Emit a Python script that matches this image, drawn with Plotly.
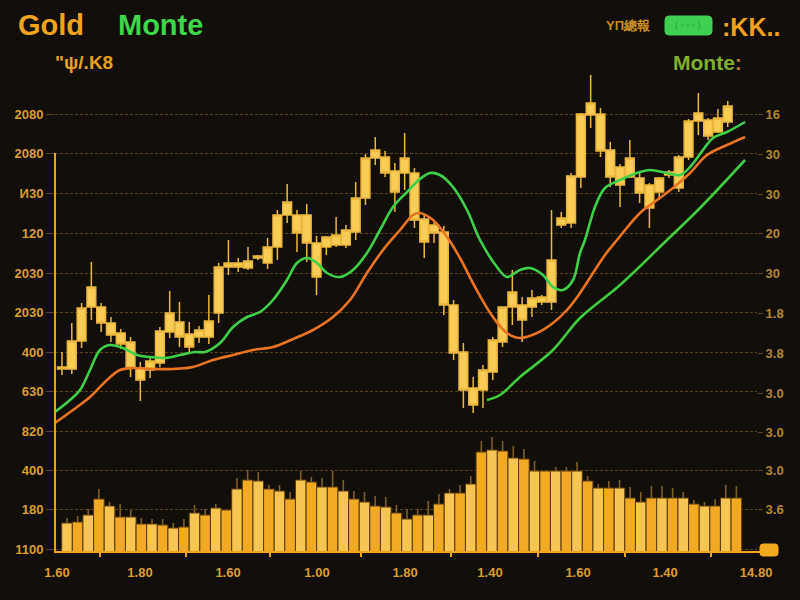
import plotly.graph_objects as go

# ---------------- data ----------------
days = list(range(69))
open_ = [1231, 1231, 1259, 1293, 1293, 1277, 1267, 1258, 1232, 1230,
         1237, 1268, 1278, 1266, 1263, 1263, 1287, 1333, 1337, 1332,
         1342, 1337, 1353, 1385, 1385, 1385, 1357, 1353, 1355, 1355,
         1368, 1402, 1442, 1443, 1429, 1427, 1427, 1381, 1375, 1368,
         1295, 1248, 1212, 1210, 1228, 1258, 1293, 1295, 1293, 1298,
         1298, 1375, 1377, 1423, 1485, 1486, 1450, 1433, 1423, 1422,
         1415, 1408, 1425, 1412, 1443, 1479, 1480, 1468, 1478]
high = [1248, 1277, 1297, 1338, 1297, 1283, 1271, 1263, 1238, 1244,
        1273, 1309, 1298, 1278, 1274, 1305, 1337, 1360, 1342, 1353,
        1345, 1362, 1390, 1416, 1390, 1396, 1364, 1364, 1383, 1375,
        1418, 1446, 1463, 1449, 1437, 1467, 1432, 1385, 1378, 1374,
        1300, 1257, 1223, 1235, 1263, 1293, 1330, 1303, 1310, 1305,
        1390, 1388, 1427, 1487, 1525, 1492, 1458, 1436, 1460, 1427,
        1417, 1423, 1430, 1445, 1481, 1507, 1482, 1491, 1499]
low = [1225, 1226, 1252, 1280, 1268, 1258, 1251, 1223, 1199, 1222,
       1233, 1262, 1253, 1248, 1257, 1256, 1277, 1325, 1328, 1330,
       1340, 1331, 1340, 1377, 1348, 1338, 1305, 1345, 1353, 1352,
       1360, 1395, 1435, 1423, 1388, 1410, 1372, 1342, 1357, 1285,
       1240, 1192, 1187, 1192, 1220, 1253, 1275, 1258, 1283, 1295,
       1290, 1372, 1372, 1412, 1472, 1443, 1413, 1393, 1422, 1397,
       1372, 1400, 1422, 1408, 1440, 1465, 1460, 1467, 1473]
close = [1233, 1259, 1292, 1313, 1277, 1265, 1256, 1232, 1220, 1239,
         1269, 1287, 1263, 1253, 1270, 1279, 1333, 1337, 1333, 1339,
         1344, 1353, 1385, 1398, 1367, 1357, 1323, 1363, 1365, 1370,
         1402, 1442, 1450, 1427, 1408, 1442, 1380, 1358, 1367, 1295,
         1247, 1210, 1195, 1230, 1260, 1293, 1308, 1280, 1302, 1303,
         1340, 1382, 1424, 1486, 1497, 1449, 1423, 1415, 1442, 1407,
         1392, 1422, 1428, 1443, 1479, 1487, 1464, 1482, 1494]

# fast average (green)
green_x = [-0.72, 0.82, 1.84, 2.86, 3.88, 4.90, 6.23, 7.66, 8.99, 10.52,
           12.05, 13.59, 14.61, 16.14, 17.47, 18.90, 20.22, 21.55, 22.98, 24.0,
           25.03, 26.05, 27.07, 28.40, 29.72, 31.15, 32.48, 33.81, 35.24, 36.57,
           37.59, 38.61, 39.94, 41.37, 42.70, 44.43, 45.45, 46.78, 47.80, 49.13,
           50.15, 51.17, 52.20, 52.91, 53.42, 54.44, 55.46, 57.00, 59.04, 60.06,
           61.80, 63.13, 64.15, 65.47, 66.50, 67.93, 69.77]
green_y = [1188, 1200, 1210, 1230, 1250, 1255, 1252, 1245, 1243, 1242,
           1245, 1248, 1248, 1257, 1273, 1283, 1288, 1300, 1320, 1337,
           1342, 1337, 1327, 1323, 1330, 1347, 1370, 1393, 1408, 1421,
           1427, 1425, 1413, 1390, 1360, 1333, 1323, 1330, 1332, 1325,
           1313, 1310, 1320, 1347, 1360, 1393, 1412, 1420, 1428, 1430,
           1427, 1425, 1433, 1450, 1462, 1468, 1478]

# slow average (orange)
orange_x = [-0.72, 1.12, 2.86, 4.60, 5.92, 7.25, 9.30, 11.34, 13.38, 15.42,
            17.47, 19.51, 21.55, 23.60, 25.64, 27.68, 29.42, 31.15, 32.79, 34.53,
            35.85, 36.57, 37.90, 39.33, 40.65, 42.19, 44.02, 45.45, 46.78, 48.52,
            50.15, 51.58, 52.91, 54.44, 55.46, 56.69, 59.04, 60.78, 62.41, 64.15,
            65.88, 67.93, 69.77]
orange_y = [1177, 1190, 1203, 1220, 1230, 1232, 1231, 1231, 1233, 1240,
            1245, 1250, 1253, 1261, 1270, 1283, 1300, 1327, 1350, 1370,
            1385, 1387, 1380, 1363, 1342, 1313, 1283, 1267, 1262, 1267,
            1277, 1290, 1307, 1330, 1345, 1360, 1387, 1400, 1412, 1427,
            1445, 1455, 1463]

# trend line (green, lower)
trend_x = [43.41, 44.74, 46.78, 50.15, 52.91, 57.0, 61.80, 65.17, 69.77]
trend_y = [1200, 1205, 1223, 1250, 1282, 1315, 1360, 1392, 1440]

volume = [29, 30, 37, 53, 46, 35, 35, 28, 28, 27, 24, 25, 39, 37, 44, 42,
          63, 72, 71, 63, 61, 53, 72, 70, 65, 65, 61, 53, 50, 46, 45, 39,
          33, 37, 37, 48, 59, 59, 68, 100, 102, 101, 94, 93, 81, 81, 81, 81,
          81, 71, 64, 64, 64, 54, 50, 54, 54, 54, 54, 48, 46, 46, 54, 54]
volume_spike = [5, 6, 6, 10, 4, 13, 7, 6, 5, 6, 5, 8, 8, 6, 4, 0,
                11, 10, 9, 4, 6, 7, 9, 5, 9, 16, 11, 8, 10, 10, 10, 8,
                10, 6, 14, 10, 4, 8, 8, 11, 13, 10, 12, 10, 10, 0, 4, 4,
                9, 5, 4, 7, 8, 11, 10, 12, 12, 10, 6, 4, 4, 7, 13, 12]

left_tick_vals = [1486, 1447, 1407, 1367, 1327, 1288, 1248, 1209, 1169, 1130, 1091, 1051]
left_tick_text = ["2080", "2080", "И30", "120", "2030", "2030", "400", "630", "820", "400", "180", "1100"]
right_tick_vals = [1486, 1446, 1406, 1367, 1327, 1287, 1247, 1207, 1168, 1130, 1091]
right_tick_text = ["16", "30", "30", "20", "30", "1.8", "3.8", "3.0", "3.0", "3.0", "3.6"]
x_tick_vals = [-0.51, 7.97, 16.96, 26.05, 35.04, 43.72, 52.71, 61.6, 70.9]
x_tick_text = ["1.60", "1.80", "1.60", "1.00", "1.80", "1.40", "1.60", "1.40", "14.80"]
x_minor_vals = [3.1, 11.2, 19.1, 27.7, 36.1, 44.3, 52.5, 60.6]

# ---------------- styling ----------------
BG = "#120e09"
GRID = "#5e4319"
ORANGE = "#f0a21c"
LABEL = "#d99d2c"
RLABEL = "#b6862c"
FONT = "Liberation Sans, Arial, sans-serif"
CANDLE_FILL = "#f8cc55"
CANDLE_LINE = "#ebb73c"

fig = go.Figure()

vol_colors = ["#f6c552" if i % 2 == 0 else "#f2a923" for i in range(len(volume))]
fig.add_trace(go.Bar(
    x=list(range(len(volume))), y=volume, xaxis="x2", yaxis="y3",
    width=1.0,
    marker=dict(color=vol_colors, line=dict(color="#5a3a0e", width=1)),
    error_y=dict(type="data", symmetric=False, array=volume_spike,
                 arrayminus=[0] * len(volume), color="#7d5e2a",
                 thickness=1.6, width=0),
    hoverinfo="skip",
))

fig.add_trace(go.Candlestick(
    x=days, open=open_, high=high, low=low, close=close,
    increasing=dict(line=dict(color=CANDLE_LINE, width=1.5), fillcolor=CANDLE_FILL),
    decreasing=dict(line=dict(color=CANDLE_LINE, width=1.5), fillcolor=CANDLE_FILL),
    whiskerwidth=0,
))

fig.add_trace(go.Scatter(x=orange_x, y=orange_y, mode="lines",
                         line=dict(color="#ea7420", width=2.6, shape="spline")))
fig.add_trace(go.Scatter(x=trend_x, y=trend_y, mode="lines",
                         line=dict(color="#3fcc3f", width=2.6, shape="spline")))
fig.add_trace(go.Scatter(x=green_x, y=green_y, mode="lines",
                         line=dict(color="#3fd04a", width=2.6, shape="spline")))

# plot area: x 55..757 px, y 70..552 px
W, H = 702.0, 482.0
def px(x):
    return (x - 55) / W
def py(y):
    return (552 - y) / H

def rounded(x0, y0, x1, y1, r):
    rx, ry = r / W, r / H
    X0, X1, Y0, Y1 = px(x0), px(x1), py(y1), py(y0)
    return (f"M {X0+rx},{Y0} L {X1-rx},{Y0} Q {X1},{Y0} {X1},{Y0+ry} "
            f"L {X1},{Y1-ry} Q {X1},{Y1} {X1-rx},{Y1} L {X0+rx},{Y1} "
            f"Q {X0},{Y1} {X0},{Y1-ry} L {X0},{Y0+ry} Q {X0},{Y0} {X0+rx},{Y0} Z")

shapes = [
    dict(type="line", xref="paper", yref="y", x0=0, x1=0, y0=1447, y1=1048,
         line=dict(color=ORANGE, width=2)),
    dict(type="line", xref="paper", yref="paper", x0=px(54), x1=px(766), y0=0, y1=0,
         line=dict(color=ORANGE, width=2)),
    dict(type="path", xref="paper", yref="paper", path=rounded(760, 544, 778, 556, 3),
         fillcolor="#f2a91e", line=dict(color="#f2a91e", width=1)),
    dict(type="path", xref="paper", yref="paper", path=rounded(665, 16, 712, 35, 4),
         fillcolor="#3fd052", line=dict(color="#3fd052", width=1)),
]

def ann(text, x, y, size, color, anchor="left", bold=True):
    return dict(text=text, xref="paper", yref="paper", x=px(x), y=py(y),
                xanchor=anchor, yanchor="middle", showarrow=False,
                font=dict(family=FONT, size=size, color=color,
                          weight="bold" if bold else "normal"))

annotations = [
    ann("Gold", 16, 25, 29, "#f0a31c"),
    ann("Monte", 116, 25, 29, "#3ed64a"),
    ann("\"ψ/.K8", 53, 62, 19, "#e9a21e"),
    ann("ΥΠ總報", 604, 25, 13, "#c8901c"),
    ann("( ◦ ◦ ◦ )", 688, 25, 9, "#2b9a35", anchor="center", bold=False),
    ann(":KK..", 720, 27, 25, "#f0a21c"),
    ann("Monte<span style='color:#b4822a'>:</span>", 671, 62, 21, "#7fb02e"),
]

fig.update_layout(
    width=800, height=600,
    margin=dict(l=55, r=43, t=70, b=48, pad=0),
    paper_bgcolor=BG, plot_bgcolor=BG,
    showlegend=False,
    boxgap=0.1, boxgroupgap=0,
    font=dict(family=FONT, color=LABEL),
    shapes=shapes,
    annotations=annotations,
    xaxis=dict(range=[-0.715, 70.99], tickmode="array", tickvals=x_tick_vals,
               ticktext=x_tick_text, showgrid=False, zeroline=False, showline=False,
               ticks="outside", ticklen=8, tickcolor="rgba(0,0,0,0)",
               tickfont=dict(family=FONT, size=13, color=LABEL, weight="bold"),
               rangeslider=dict(visible=False), fixedrange=True),
    xaxis2=dict(overlaying="x", side="bottom", range=[-1.13, 64.94],
                tickmode="array", tickvals=x_minor_vals, showticklabels=False,
                ticks="outside", ticklen=4, tickwidth=2, tickcolor=ORANGE,
                showgrid=False, zeroline=False, showline=False),
    yaxis=dict(range=[1048, 1530], tickmode="array", tickvals=left_tick_vals,
               ticktext=left_tick_text, showgrid=True, gridcolor=GRID,
               griddash="3px,2px", gridwidth=1, zeroline=False, showline=False,
               ticks="outside", ticklen=8, tickcolor=GRID,
               tickfont=dict(family=FONT, size=13, color=LABEL, weight="bold")),
    yaxis2=dict(overlaying="y", side="right", range=[1048, 1530], tickmode="array",
                tickvals=right_tick_vals, ticktext=right_tick_text, showgrid=False,
                zeroline=False, showline=False, ticks="outside", ticklen=5,
                tickcolor=GRID,
                tickfont=dict(family=FONT, size=13, color=RLABEL, weight="bold")),
    yaxis3=dict(overlaying="y", range=[0, 482], visible=False),
)

fig.add_trace(go.Scatter(x=[None], y=[None], yaxis="y2", showlegend=False))

fig.write_html(
    "out.html",
    config={"displayModeBar": False},
    post_script="document.body.style.margin='0';document.body.style.background='#120e09';",
)
